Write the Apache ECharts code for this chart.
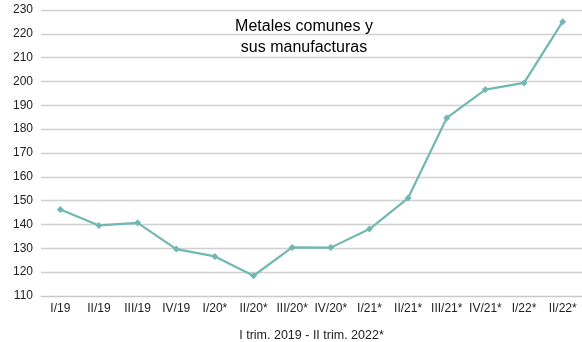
<!DOCTYPE html>
<html>
<head>
<meta charset="utf-8">
<script src="https://cdn.jsdelivr.net/npm/echarts@6/dist/echarts.min.js"></script>
<style>
  html, body { margin: 0; padding: 0; background: #fff; }
  #chart { width: 582px; height: 342px; }
</style>
</head>
<body>
<div id="chart"></div>
<script>
// Quarter labels (asterisk marks preliminary figures)
const quarters = ['I/19', 'II/19', 'III/19', 'IV/19', 'I/20*', 'II/20*', 'III/20*', 'IV/20*',
                  'I/21*', 'II/21*', 'III/21*', 'IV/21*', 'I/22*', 'II/22*'];
// Index values for "Metales comunes y sus manufacturas"
const indexValues = [146.3, 139.6, 140.7, 129.7, 126.6, 118.5, 130.4, 130.3,
                     138.1, 151.1, 184.7, 196.6, 199.4, 225.1];
const yMin = 110, yMax = 230, yStep = 10;
const titleText = 'Metales comunes y\nsus manufacturas';
const axisTitle = 'I trim. 2019 - II trim. 2022*';

const chart = echarts.init(document.getElementById('chart'), null, { renderer: 'canvas' });
const font = 'Liberation Sans, Arial, sans-serif';
chart.setOption({
  animation: false,
  backgroundColor: '#ffffff',
  title: {
    text: titleText,
    left: 299, top: 11,
    textAlign: 'center',
    textStyle: { fontFamily: font, fontSize: 16, fontWeight: 'normal', color: '#000', lineHeight: 21 }
  },
  grid: { left: 41, right: 0, top: 10, bottom: 46, containLabel: false, outerBoundsMode: 'none' },
  xAxis: {
    type: 'category',
    data: quarters,
    boundaryGap: true,
    axisLine: { show: true, lineStyle: { color: '#c8c8c8', width: 1 } },
    axisTick: { show: false },
    axisLabel: { fontFamily: font, fontSize: 12, color: '#222', margin: 7, interval: 0 },
    name: axisTitle,
    nameLocation: 'middle',
    nameGap: 33,
    nameTextStyle: { fontFamily: font, fontSize: 12.5, color: '#222', padding: [0, 0, 0, 0] }
  },
  yAxis: {
    type: 'value',
    min: yMin, max: yMax, interval: yStep,
    axisLine: { show: false },
    axisTick: { show: false },
    axisLabel: { fontFamily: font, fontSize: 12, color: '#222', margin: 8 },
    splitLine: { lineStyle: { color: '#d0d0d0', width: 1.3 } }
  },
  series: [{
    type: 'line',
    data: indexValues,
    symbol: 'diamond',
    symbolSize: 7,
    lineStyle: { color: '#72b8b2', width: 2.2 },
    itemStyle: { color: '#72b8b2' }
  }]
});
</script>
</body>
</html>
